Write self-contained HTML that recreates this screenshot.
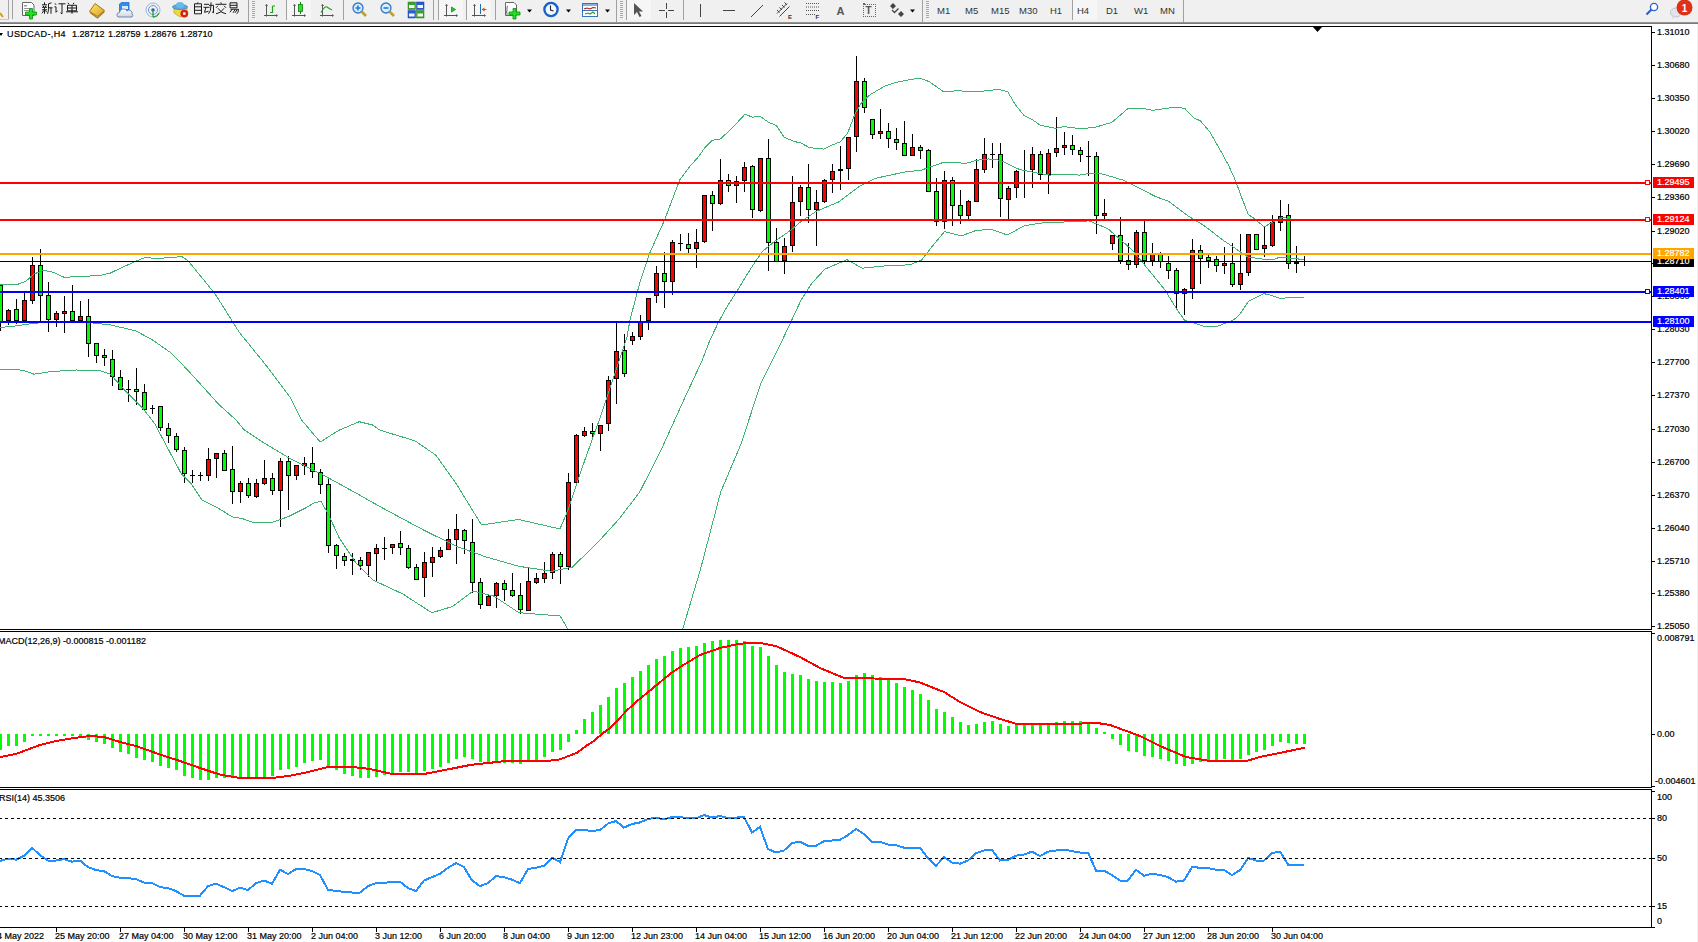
<!DOCTYPE html>
<html><head><meta charset="utf-8">
<style>
html,body{margin:0;padding:0;}
body{width:1698px;height:942px;overflow:hidden;position:relative;background:#fff;font-family:"Liberation Sans",sans-serif;}
.t{position:absolute;white-space:nowrap;line-height:11px;font-size:9px;-webkit-text-stroke:0.2px;}
.bx{position:absolute;left:1653px;width:41px;height:11px;font-size:9px;line-height:11px;text-indent:4px;white-space:nowrap;-webkit-text-stroke:0.2px;}
#tb{position:absolute;left:0;top:0;width:1698px;height:22px;background:#f0f0f0;}
#tbl{position:absolute;left:0;top:22px;width:1698px;height:2px;background:linear-gradient(#a0a0a0,#6e6e6e);}
#rs{position:absolute;left:1697px;top:24px;width:1px;height:918px;background:#f0f0f0;}
.tf{position:absolute;top:3.6px;font-size:9.5px;line-height:13px;color:#333;}
</style></head><body>
<div id="tb"><svg style="position:absolute;left:0;top:0" width="1698" height="22">
<!-- left partial pressed button -->
<rect x="8" y="0" width="1" height="20" fill="#a8a8a8"/>
<rect x="0" y="19" width="9" height="1" fill="#c8c8c8"/>
<path d="M0,13 L3,17" stroke="#d4a017" stroke-width="2"/>
<rect x="12" y="0" width="1" height="19" fill="#a0a0a0"/>
<!-- new order icon -->
<path d="M22.5,2.5 h9 l2.5,2.5 v10.5 h-11.5 z" fill="#fff" stroke="#666" stroke-width="1"/>
<rect x="24" y="5" width="3" height="1.5" fill="#999"/>
<rect x="24" y="8" width="7" height="1" fill="#999"/>
<rect x="24" y="10" width="7" height="1" fill="#999"/>
<path d="M29.5,8.5 h3 v3.5 h4 v3 h-4 v4 h-3 v-4 h-4 v-3 h4 z" fill="#22e022" stroke="#0b8f0b" stroke-width="0.8"/>
<!-- 新订单 -->
<g stroke="#111" stroke-width="0.95" fill="none" transform="translate(0,-0.7)">
 <path d="M42,5.5 h5 M44.5,3 v2.5 M42,8 h5 M43,6.5 l1,1.5 M46,6.5 l-1,1.5 M42,10.5 h5 M44.5,8 v6.5 M44,11 l-2,3 M45,11 l2,2"/>
 <path d="M48.5,4.5 l3,-1 M48.5,4.5 v5 q0,3 -1,5 M48.5,8.5 h4 M51,8.5 v6"/>
 <path d="M55,4 l1,1.5 M54.5,7.5 h1.5 v5.5 l1.5,-1.5 M58.5,4.5 h7 M62,4.5 v10 l-1.5,-1"/>
 <path d="M68,3.5 l1,1.5 M74,3.5 l-1,1.5 M67.5,6 h9 v5.5 h-9 z M67.5,8.7 h9 M72,6 v8.5 M66,12.5 h12"/>
</g>
<!-- gold book -->
<defs><linearGradient id="gb" x1="0" y1="0" x2="1" y2="1"><stop offset="0" stop-color="#ffe870"/><stop offset="1" stop-color="#d8a020"/></linearGradient>
<linearGradient id="cl" x1="0" y1="0" x2="0" y2="1"><stop offset="0" stop-color="#ffffff"/><stop offset="1" stop-color="#c8d4e8"/></linearGradient></defs>
<path d="M89.5,11.5 L95,3.5 L104.5,10.5 L97.5,16.5 Z" fill="url(#gb)" stroke="#9a6a10" stroke-width="0.9"/>
<path d="M90,12.5 L97.5,18 L104.5,11.5" fill="none" stroke="#b07818" stroke-width="1.2"/>
<!-- blue cloud -->
<path d="M119.5,4 l2,-1.5 h7.5 v9 h-9.5 z" fill="#2a90f0" stroke="#1a60c0" stroke-width="0.7"/>
<rect x="122" y="6" width="6" height="3" fill="#d8ecff"/>
<path d="M118,17 a2.5,2.5 0 0 1 1.5,-4.5 a4,4 0 0 1 7.5,-1.5 a3,3 0 0 1 5,3 a2,2 0 0 1 0,3 z" fill="url(#cl)" stroke="#5a70a0" stroke-width="0.8"/>
<!-- signal icon -->
<circle cx="153" cy="10" r="7" fill="none" stroke="#9ab8e0" stroke-width="1"/>
<circle cx="153" cy="10" r="4.5" fill="none" stroke="#6a98d8" stroke-width="1"/>
<circle cx="153" cy="10" r="1.8" fill="#2a60c8"/>
<path d="M153,10 v7 M153,17 a7,7 0 0 0 6,-4" fill="none" stroke="#30a030" stroke-width="1.3"/>
<!-- auto trading hat -->
<path d="M174,13 L180,17 L187,12 L187,8 L174,8 Z" fill="#f0d840" stroke="#b09020" stroke-width="0.6"/>
<ellipse cx="180" cy="7" rx="7.5" ry="2.5" fill="#5aaae0" stroke="#2a70b0" stroke-width="0.6"/>
<ellipse cx="180" cy="5" rx="4" ry="3" fill="#6ab8ee"/>
<circle cx="184.3" cy="13.6" r="3.9" fill="#d82010"/>
<rect x="183.1" y="12.4" width="2.4" height="2.4" fill="#fff"/>
<!-- 自动交易 -->
<g stroke="#111" stroke-width="0.95" fill="none" transform="translate(0,-0.7)">
 <path d="M198,3 l-1,1.5 M194.5,4.5 h7 v10 h-7 z M194.5,7.5 h7 M194.5,11 h7"/>
 <path d="M204,5 h5 M203.5,8 h6 M206,8 l-1.5,5 l4,-1 M211,3 v3 q0,6 -2.5,8.5 M209,6 h4.5 v7.5 l-1.5,-1"/>
 <path d="M221,3 v1.5 M215.5,5 h11 M218,6.5 l-2,2 M224,6.5 l2,2 M218,9 q3,5 8,5.5 M224,9 q-3,5 -8,5.5"/>
 <path d="M230,3.5 h7 v5 h-7 z M230,6 h7 M230.5,10 h8 q0,4 -2,4.5 M232,10 l-2,3 M235,10.5 l-2,3 M237,10.5 l-2,3"/>
</g>
<rect x="248" y="0" width="1" height="22" fill="#a0a0a0"/>
<g fill="#a8a8a8"><rect x="252" y="1" width="3" height="1"/><rect x="252" y="3" width="3" height="1"/><rect x="252" y="5" width="3" height="1"/><rect x="252" y="7" width="3" height="1"/><rect x="252" y="9" width="3" height="1"/><rect x="252" y="11" width="3" height="1"/><rect x="252" y="13" width="3" height="1"/><rect x="252" y="15" width="3" height="1"/><rect x="252" y="17" width="3" height="1"/></g>
<!-- bar chart icon -->
<g stroke="#555" stroke-width="1" fill="#555">
 <path d="M266.5,4.5 v12 M264,15.5 h13" fill="none"/>
 <path d="M265,6 l1.5,-2 l1.5,2 z M276,14 l2,1.5 l-2,1.5 z" stroke="none"/>
</g>
<path d="M272.5,6 v7 M272.5,6 h2.5 M270,12.5 h2.5" stroke="#20a020" stroke-width="1.2" fill="none"/>
<rect x="286" y="0" width="1" height="20" fill="#a0a0a0"/>
<rect x="287" y="0" width="24" height="20" fill="#f6f6f6"/>
<g stroke="#555" stroke-width="1" fill="#555">
 <path d="M294.5,4.5 v12 M292,15.5 h13" fill="none"/>
 <path d="M293,6 l1.5,-2 l1.5,2 z M304,14 l2,1.5 l-2,1.5 z" stroke="none"/>
</g>
<rect x="300" y="2" width="1" height="12" fill="#108010"/>
<rect x="298.5" y="4.5" width="4" height="7" fill="#30e030" stroke="#108010" stroke-width="0.8"/>
<g stroke="#555" stroke-width="1" fill="#555">
 <path d="M322.5,4.5 v12 M320,15.5 h13" fill="none"/>
 <path d="M321,6 l1.5,-2 l1.5,2 z M332,14 l2,1.5 l-2,1.5 z" stroke="none"/>
</g>
<path d="M321,12.5 q4,-7 6,-5.5 t5,3" stroke="#20a020" stroke-width="1.1" fill="none"/>
<rect x="343" y="0" width="1" height="20" fill="#a0a0a0"/>
<!-- zoom in/out -->
<circle cx="358" cy="8" r="5" fill="#d8ecff" stroke="#2a78d0" stroke-width="1.3"/>
<path d="M355.5,8 h5 M358,5.5 v5" stroke="#2a78d0" stroke-width="1.6"/>
<path d="M361.5,11.5 l4.5,4.5" stroke="#c8a020" stroke-width="2.6"/>
<circle cx="386" cy="8" r="5" fill="#d8ecff" stroke="#2a78d0" stroke-width="1.3"/>
<path d="M383.5,8 h5" stroke="#2a78d0" stroke-width="1.6"/>
<path d="M389.5,11.5 l4.5,4.5" stroke="#c8a020" stroke-width="2.6"/>
<!-- tile windows -->
<rect x="408" y="2" width="7.5" height="7.5" fill="#3aa030" stroke="#2a7a20" stroke-width="0.5"/><rect x="416.5" y="2" width="7.5" height="7.5" fill="#2a5ad8" stroke="#1a40a0" stroke-width="0.5"/>
<rect x="408" y="10.5" width="7.5" height="7.5" fill="#2a5ad8" stroke="#1a40a0" stroke-width="0.5"/><rect x="416.5" y="10.5" width="7.5" height="7.5" fill="#3aa030" stroke="#2a7a20" stroke-width="0.5"/>
<g fill="#f4f8f4"><rect x="409" y="5" width="5.5" height="3"/><rect x="417.5" y="5" width="5.5" height="3"/><rect x="409" y="13.5" width="5.5" height="3"/><rect x="417.5" y="13.5" width="5.5" height="3"/></g>
<rect x="433" y="0" width="1" height="20" fill="#a0a0a0"/>
<rect x="438" y="0" width="1" height="20" fill="#a0a0a0"/>
<rect x="439" y="0" width="24" height="20" fill="#f6f6f6"/>
<g stroke="#555" stroke-width="1" fill="#555">
 <path d="M446.5,4.5 v12 M444,15.5 h13" fill="none"/>
 <path d="M445,6 l1.5,-2 l1.5,2 z M456,14 l2,1.5 l-2,1.5 z" stroke="none"/>
</g>
<path d="M451.5,7 l4,2.5 l-4,2.5 z" fill="#30c030" stroke="#109010" stroke-width="0.8"/>
<rect x="466" y="0" width="1" height="20" fill="#a0a0a0"/>
<rect x="467" y="0" width="24" height="20" fill="#f6f6f6"/>
<g stroke="#555" stroke-width="1" fill="#555">
 <path d="M474.5,4.5 v12 M472,15.5 h13" fill="none"/>
 <path d="M473,6 l1.5,-2 l1.5,2 z M484,14 l2,1.5 l-2,1.5 z" stroke="none"/>
</g>
<rect x="480" y="4" width="1" height="10" fill="#2070b0"/>
<path d="M481.5,9.5 l3,-2 v1.5 h2 v1 h-2 v1.5 z" fill="#e05010"/>
<rect x="495" y="0" width="1" height="20" fill="#a0a0a0"/>
<!-- new chart icon -->
<path d="M505.5,2.5 h8.5 l2.5,2.5 v10.5 h-11 z" fill="#fff" stroke="#666" stroke-width="1"/>
<path d="M508,6 q-1,0 -1,2 v3 q0,1 -1,1 q1,0 1,1 v2" fill="none" stroke="#444" stroke-width="0.8"/>
<path d="M513,8.5 h3 v3.5 h4 v3 h-4 v4 h-3 v-4 h-4 v-3 h4 z" fill="#22e022" stroke="#0b8f0b" stroke-width="0.8"/>
<path d="M527,9.5 h5 l-2.5,3 z" fill="#000"/>
<!-- clock -->
<circle cx="551" cy="9.5" r="7.8" fill="#1a60c8"/>
<circle cx="551" cy="9.5" r="5.4" fill="#f4f8ff"/>
<path d="M550.5,5.5 v4.5 l3,1" stroke="#222" stroke-width="1.1" fill="none"/>
<path d="M566,9.5 h5 l-2.5,3 z" fill="#000"/>
<!-- indicators -->
<rect x="582.5" y="3.5" width="15" height="13" fill="#fff" stroke="#3a70c0" stroke-width="1"/>
<rect x="583" y="4" width="14" height="2" fill="#8ab0e0"/>
<rect x="583" y="10" width="14" height="1" fill="#3a70c0"/>
<path d="M584,9 l3,-1 l3,1 l3,-1.5 l3,0.5" stroke="#a02010" stroke-width="1.1" fill="none"/>
<path d="M585,14 l3,-1 l2,1 l3,-2 l2,2" stroke="#20a020" stroke-width="1.1" fill="none"/>
<path d="M605,9.5 h5 l-2.5,3 z" fill="#000"/>
<rect x="616" y="0" width="1" height="22" fill="#a0a0a0"/>
<g fill="#a8a8a8"><rect x="620" y="1" width="3" height="1"/><rect x="620" y="3" width="3" height="1"/><rect x="620" y="5" width="3" height="1"/><rect x="620" y="7" width="3" height="1"/><rect x="620" y="9" width="3" height="1"/><rect x="620" y="11" width="3" height="1"/><rect x="620" y="13" width="3" height="1"/><rect x="620" y="15" width="3" height="1"/><rect x="620" y="17" width="3" height="1"/></g>
<rect x="626" y="0" width="1" height="20" fill="#a0a0a0"/>
<rect x="627" y="0" width="24" height="20" fill="#f6f6f6"/>
<path d="M634,3 v12 l3,-3 l2.5,5 l2,-1 l-2.5,-4.5 h4 z" fill="#555"/>
<!-- crosshair -->
<path d="M666.5,3 v6 M666.5,12 v6 M659,10.5 h6 M668,10.5 h6" stroke="#444" stroke-width="1"/>
<rect x="683" y="0" width="1" height="20" fill="#a0a0a0"/>
<rect x="700" y="4" width="1" height="13" fill="#444"/>
<rect x="723" y="10" width="12" height="1" fill="#444"/>
<path d="M751,17 l12,-12" stroke="#444" stroke-width="1"/>
<!-- channel E -->
<path d="M777,13.5 l10,-10 M779.5,16.5 l10,-10 M777,10 l2.5,2.5 M779.5,7.5 l2.5,2.5 M782,5 l2.5,2.5 M784.5,2.5 l2.5,2.5" stroke="#444" stroke-width="1" fill="none"/>
<text x="788" y="19" font-family="Liberation Sans" font-size="6" font-weight="bold" fill="#333">E</text>
<!-- fibo -->
<g fill="#555"><rect x="806" y="3" width="13" height="1"/><rect x="806" y="6.5" width="13" height="1"/><rect x="806" y="10" width="13" height="1"/><rect x="806" y="14" width="9" height="1"/></g>
<g fill="#f0f0f0"><rect x="807" y="0" width="1" height="16"/><rect x="809" y="0" width="1" height="16"/><rect x="811" y="0" width="1" height="16"/><rect x="813" y="0" width="1" height="16"/><rect x="815" y="0" width="1" height="16"/><rect x="817" y="0" width="1" height="16"/></g>
<text x="815.5" y="19" font-family="Liberation Sans" font-size="6" font-weight="bold" fill="#333">F</text>
<text x="836.5" y="15" font-family="Liberation Sans" font-size="11" font-weight="bold" fill="#555">A</text>
<g fill="#666"><rect x="863" y="3" width="2" height="2"/><rect x="865" y="4" width="1" height="1"/><rect x="865" y="16" width="1" height="1"/><rect x="867" y="4" width="1" height="1"/><rect x="867" y="16" width="1" height="1"/><rect x="869" y="4" width="1" height="1"/><rect x="869" y="16" width="1" height="1"/><rect x="871" y="4" width="1" height="1"/><rect x="871" y="16" width="1" height="1"/><rect x="873" y="4" width="1" height="1"/><rect x="873" y="16" width="1" height="1"/><rect x="875" y="4" width="1" height="1"/><rect x="875" y="16" width="1" height="1"/><rect x="863" y="6" width="1" height="1"/><rect x="875" y="6" width="1" height="1"/><rect x="863" y="8" width="1" height="1"/><rect x="875" y="8" width="1" height="1"/><rect x="863" y="10" width="1" height="1"/><rect x="875" y="10" width="1" height="1"/><rect x="863" y="12" width="1" height="1"/><rect x="875" y="12" width="1" height="1"/><rect x="863" y="14" width="1" height="1"/><rect x="875" y="14" width="1" height="1"/><rect x="863" y="16" width="1" height="1"/><rect x="875" y="16" width="1" height="1"/></g>
<text x="865.5" y="14" font-family="Liberation Sans" font-size="10" font-weight="bold" fill="#555">T</text>
<path d="M890,6 l3,-3 l3,3 l-3,3 z M898,14 l3,-3 l3,3 l-3,3 z" fill="#444"/>
<path d="M892,10 l2.5,2.5 l4,-4" stroke="#444" stroke-width="1.3" fill="none"/>
<path d="M910,9.5 h5 l-2.5,3 z" fill="#000"/>
<rect x="922" y="0" width="1" height="22" fill="#a0a0a0"/>
<g fill="#a8a8a8"><rect x="926" y="1" width="3" height="1"/><rect x="926" y="3" width="3" height="1"/><rect x="926" y="5" width="3" height="1"/><rect x="926" y="7" width="3" height="1"/><rect x="926" y="9" width="3" height="1"/><rect x="926" y="11" width="3" height="1"/><rect x="926" y="13" width="3" height="1"/><rect x="926" y="15" width="3" height="1"/><rect x="926" y="17" width="3" height="1"/></g>
<rect x="1072" y="0" width="1" height="20" fill="#a0a0a0"/>
<rect x="1073" y="0" width="24" height="20" fill="#f6f6f6"/>
<rect x="1183" y="0" width="1" height="22" fill="#a0a0a0"/>
<!-- search -->
<circle cx="1654" cy="7" r="3.6" fill="#fff" stroke="#2a60d0" stroke-width="1.3"/>
<path d="M1651.5,9.5 l-5,5" stroke="#2a60d0" stroke-width="2.2"/>
<!-- chat badge -->
<ellipse cx="1676" cy="12.5" rx="5.5" ry="4.5" fill="#e0e4ec" stroke="#b8bcc8" stroke-width="0.8"/>
<path d="M1673,16 l-1,3 l3,-2.5" fill="#d0d4dc"/>
<circle cx="1684.5" cy="7.5" r="8" fill="#e03018"/>
<text x="1681.8" y="12" font-family="Liberation Sans" font-size="10" font-weight="bold" fill="#fff">1</text>
</svg>
<div class="tf" style="left:937px">M1</div>
<div class="tf" style="left:965px">M5</div>
<div class="tf" style="left:991px">M15</div>
<div class="tf" style="left:1019px">M30</div>
<div class="tf" style="left:1050px">H1</div>
<div class="tf" style="left:1077px">H4</div>
<div class="tf" style="left:1106px">D1</div>
<div class="tf" style="left:1134px">W1</div>
<div class="tf" style="left:1160px">MN</div>
</div>
<div id="tbl"></div>
<svg style="position:absolute;left:0;top:0" width="1698" height="942">
<g shape-rendering="crispEdges" fill="#000">
<rect x="0" y="26" width="1652" height="1"/>
<rect x="0" y="629" width="1652" height="1"/>
<rect x="0" y="631" width="1652" height="1"/>
<rect x="0" y="787" width="1652" height="1"/>
<rect x="0" y="789" width="1652" height="1"/>
<rect x="0" y="927" width="1652" height="1"/>
<rect x="1651" y="26" width="1" height="604"/>
<rect x="1651" y="631" width="1" height="157"/>
<rect x="1651" y="789" width="1" height="139"/>
</g>
<defs><clipPath id="mc"><rect x="0" y="27" width="1651" height="602"/></clipPath><clipPath id="md"><rect x="0" y="632" width="1651" height="155"/></clipPath><clipPath id="rs"><rect x="0" y="790" width="1651" height="137"/></clipPath></defs>
<g shape-rendering="crispEdges">
<rect x="0" y="285" width="1" height="46" fill="#000"/>
<rect x="-2" y="285" width="5" height="38" fill="#000"/>
<rect x="-1" y="286" width="3" height="36" fill="#00ff00"/>
<rect x="8" y="309" width="1" height="16" fill="#000"/>
<rect x="6" y="310" width="5" height="11" fill="#000"/>
<rect x="7" y="311" width="3" height="9" fill="#ff0000"/>
<rect x="16" y="299" width="1" height="25" fill="#000"/>
<rect x="14" y="309" width="5" height="12" fill="#000"/>
<rect x="15" y="310" width="3" height="10" fill="#00ff00"/>
<rect x="24" y="293" width="1" height="28" fill="#000"/>
<rect x="22" y="300" width="5" height="21" fill="#000"/>
<rect x="23" y="301" width="3" height="19" fill="#ff0000"/>
<rect x="32" y="257" width="1" height="47" fill="#000"/>
<rect x="30" y="265" width="5" height="36" fill="#000"/>
<rect x="31" y="266" width="3" height="34" fill="#ff0000"/>
<rect x="40" y="249" width="1" height="72" fill="#000"/>
<rect x="38" y="265" width="5" height="31" fill="#000"/>
<rect x="39" y="266" width="3" height="29" fill="#00ff00"/>
<rect x="48" y="282" width="1" height="50" fill="#000"/>
<rect x="46" y="295" width="5" height="25" fill="#000"/>
<rect x="47" y="296" width="3" height="23" fill="#00ff00"/>
<rect x="56" y="311" width="1" height="16" fill="#000"/>
<rect x="54" y="313" width="5" height="7" fill="#000"/>
<rect x="55" y="314" width="3" height="5" fill="#ff0000"/>
<rect x="64" y="296" width="1" height="37" fill="#000"/>
<rect x="62" y="311" width="5" height="3" fill="#000"/>
<rect x="63" y="312" width="3" height="1" fill="#ff0000"/>
<rect x="72" y="285" width="1" height="36" fill="#000"/>
<rect x="70" y="311" width="5" height="10" fill="#000"/>
<rect x="71" y="312" width="3" height="8" fill="#00ff00"/>
<rect x="80" y="301" width="1" height="20" fill="#000"/>
<rect x="78" y="316" width="5" height="5" fill="#000"/>
<rect x="79" y="317" width="3" height="3" fill="#ff0000"/>
<rect x="88" y="299" width="1" height="58" fill="#000"/>
<rect x="86" y="316" width="5" height="28" fill="#000"/>
<rect x="87" y="317" width="3" height="26" fill="#00ff00"/>
<rect x="96" y="343" width="1" height="20" fill="#000"/>
<rect x="94" y="343" width="5" height="13" fill="#000"/>
<rect x="95" y="344" width="3" height="11" fill="#00ff00"/>
<rect x="104" y="349" width="1" height="17" fill="#000"/>
<rect x="102" y="355" width="5" height="3" fill="#000"/>
<rect x="103" y="356" width="3" height="1" fill="#00ff00"/>
<rect x="112" y="350" width="1" height="36" fill="#000"/>
<rect x="110" y="359" width="5" height="18" fill="#000"/>
<rect x="111" y="360" width="3" height="16" fill="#00ff00"/>
<rect x="120" y="370" width="1" height="20" fill="#000"/>
<rect x="118" y="377" width="5" height="13" fill="#000"/>
<rect x="119" y="378" width="3" height="11" fill="#00ff00"/>
<rect x="128" y="380" width="1" height="22" fill="#000"/>
<rect x="126" y="389" width="5" height="1" fill="#000"/>
<rect x="136" y="368" width="1" height="37" fill="#000"/>
<rect x="134" y="389" width="5" height="3" fill="#000"/>
<rect x="135" y="390" width="3" height="1" fill="#00ff00"/>
<rect x="144" y="384" width="1" height="27" fill="#000"/>
<rect x="142" y="392" width="5" height="18" fill="#000"/>
<rect x="143" y="393" width="3" height="16" fill="#00ff00"/>
<rect x="152" y="405" width="1" height="9" fill="#000"/>
<rect x="150" y="408" width="5" height="1" fill="#000"/>
<rect x="160" y="406" width="1" height="25" fill="#000"/>
<rect x="158" y="406" width="5" height="22" fill="#000"/>
<rect x="159" y="407" width="3" height="20" fill="#00ff00"/>
<rect x="168" y="423" width="1" height="20" fill="#000"/>
<rect x="166" y="428" width="5" height="8" fill="#000"/>
<rect x="167" y="429" width="3" height="6" fill="#00ff00"/>
<rect x="176" y="433" width="1" height="19" fill="#000"/>
<rect x="174" y="436" width="5" height="14" fill="#000"/>
<rect x="175" y="437" width="3" height="12" fill="#00ff00"/>
<rect x="184" y="447" width="1" height="36" fill="#000"/>
<rect x="182" y="450" width="5" height="24" fill="#000"/>
<rect x="183" y="451" width="3" height="22" fill="#00ff00"/>
<rect x="192" y="470" width="1" height="13" fill="#000"/>
<rect x="190" y="475" width="5" height="1" fill="#000"/>
<rect x="200" y="472" width="1" height="9" fill="#000"/>
<rect x="198" y="475" width="5" height="1" fill="#000"/>
<rect x="208" y="448" width="1" height="33" fill="#000"/>
<rect x="206" y="459" width="5" height="17" fill="#000"/>
<rect x="207" y="460" width="3" height="15" fill="#ff0000"/>
<rect x="216" y="453" width="1" height="25" fill="#000"/>
<rect x="214" y="453" width="5" height="6" fill="#000"/>
<rect x="215" y="454" width="3" height="4" fill="#ff0000"/>
<rect x="224" y="450" width="1" height="21" fill="#000"/>
<rect x="222" y="453" width="5" height="18" fill="#000"/>
<rect x="223" y="454" width="3" height="16" fill="#00ff00"/>
<rect x="232" y="446" width="1" height="58" fill="#000"/>
<rect x="230" y="469" width="5" height="23" fill="#000"/>
<rect x="231" y="470" width="3" height="21" fill="#00ff00"/>
<rect x="240" y="481" width="1" height="22" fill="#000"/>
<rect x="238" y="483" width="5" height="9" fill="#000"/>
<rect x="239" y="484" width="3" height="7" fill="#ff0000"/>
<rect x="248" y="478" width="1" height="20" fill="#000"/>
<rect x="246" y="483" width="5" height="13" fill="#000"/>
<rect x="247" y="484" width="3" height="11" fill="#00ff00"/>
<rect x="256" y="479" width="1" height="19" fill="#000"/>
<rect x="254" y="483" width="5" height="14" fill="#000"/>
<rect x="255" y="484" width="3" height="12" fill="#ff0000"/>
<rect x="264" y="460" width="1" height="25" fill="#000"/>
<rect x="262" y="478" width="5" height="6" fill="#000"/>
<rect x="263" y="479" width="3" height="4" fill="#ff0000"/>
<rect x="272" y="473" width="1" height="22" fill="#000"/>
<rect x="270" y="478" width="5" height="13" fill="#000"/>
<rect x="271" y="479" width="3" height="11" fill="#00ff00"/>
<rect x="280" y="458" width="1" height="69" fill="#000"/>
<rect x="278" y="461" width="5" height="30" fill="#000"/>
<rect x="279" y="462" width="3" height="28" fill="#ff0000"/>
<rect x="288" y="456" width="1" height="54" fill="#000"/>
<rect x="286" y="461" width="5" height="15" fill="#000"/>
<rect x="287" y="462" width="3" height="13" fill="#00ff00"/>
<rect x="296" y="465" width="1" height="15" fill="#000"/>
<rect x="294" y="465" width="5" height="11" fill="#000"/>
<rect x="295" y="466" width="3" height="9" fill="#ff0000"/>
<rect x="304" y="457" width="1" height="18" fill="#000"/>
<rect x="302" y="463" width="5" height="3" fill="#000"/>
<rect x="303" y="464" width="3" height="1" fill="#ff0000"/>
<rect x="312" y="447" width="1" height="31" fill="#000"/>
<rect x="310" y="463" width="5" height="9" fill="#000"/>
<rect x="311" y="464" width="3" height="7" fill="#00ff00"/>
<rect x="320" y="469" width="1" height="25" fill="#000"/>
<rect x="318" y="472" width="5" height="13" fill="#000"/>
<rect x="319" y="473" width="3" height="11" fill="#00ff00"/>
<rect x="328" y="479" width="1" height="74" fill="#000"/>
<rect x="326" y="484" width="5" height="62" fill="#000"/>
<rect x="327" y="485" width="3" height="60" fill="#00ff00"/>
<rect x="336" y="544" width="1" height="25" fill="#000"/>
<rect x="334" y="545" width="5" height="11" fill="#000"/>
<rect x="335" y="546" width="3" height="9" fill="#00ff00"/>
<rect x="344" y="553" width="1" height="13" fill="#000"/>
<rect x="342" y="556" width="5" height="5" fill="#000"/>
<rect x="343" y="557" width="3" height="3" fill="#00ff00"/>
<rect x="352" y="553" width="1" height="22" fill="#000"/>
<rect x="350" y="559" width="5" height="2" fill="#000"/>
<rect x="360" y="557" width="1" height="13" fill="#000"/>
<rect x="358" y="560" width="5" height="6" fill="#000"/>
<rect x="359" y="561" width="3" height="4" fill="#00ff00"/>
<rect x="368" y="552" width="1" height="25" fill="#000"/>
<rect x="366" y="552" width="5" height="14" fill="#000"/>
<rect x="367" y="553" width="3" height="12" fill="#ff0000"/>
<rect x="376" y="544" width="1" height="37" fill="#000"/>
<rect x="374" y="548" width="5" height="6" fill="#000"/>
<rect x="375" y="549" width="3" height="4" fill="#ff0000"/>
<rect x="384" y="537" width="1" height="23" fill="#000"/>
<rect x="382" y="548" width="5" height="1" fill="#000"/>
<rect x="392" y="544" width="1" height="10" fill="#000"/>
<rect x="390" y="544" width="5" height="4" fill="#000"/>
<rect x="391" y="545" width="3" height="2" fill="#ff0000"/>
<rect x="400" y="531" width="1" height="24" fill="#000"/>
<rect x="398" y="543" width="5" height="5" fill="#000"/>
<rect x="399" y="544" width="3" height="3" fill="#00ff00"/>
<rect x="408" y="545" width="1" height="24" fill="#000"/>
<rect x="406" y="548" width="5" height="20" fill="#000"/>
<rect x="407" y="549" width="3" height="18" fill="#00ff00"/>
<rect x="416" y="564" width="1" height="16" fill="#000"/>
<rect x="414" y="567" width="5" height="13" fill="#000"/>
<rect x="415" y="568" width="3" height="11" fill="#00ff00"/>
<rect x="424" y="552" width="1" height="45" fill="#000"/>
<rect x="422" y="562" width="5" height="16" fill="#000"/>
<rect x="423" y="563" width="3" height="14" fill="#ff0000"/>
<rect x="432" y="547" width="1" height="30" fill="#000"/>
<rect x="430" y="557" width="5" height="6" fill="#000"/>
<rect x="431" y="558" width="3" height="4" fill="#ff0000"/>
<rect x="440" y="547" width="1" height="11" fill="#000"/>
<rect x="438" y="550" width="5" height="7" fill="#000"/>
<rect x="439" y="551" width="3" height="5" fill="#ff0000"/>
<rect x="448" y="529" width="1" height="21" fill="#000"/>
<rect x="446" y="539" width="5" height="11" fill="#000"/>
<rect x="447" y="540" width="3" height="9" fill="#ff0000"/>
<rect x="456" y="514" width="1" height="50" fill="#000"/>
<rect x="454" y="529" width="5" height="11" fill="#000"/>
<rect x="455" y="530" width="3" height="9" fill="#ff0000"/>
<rect x="464" y="529" width="1" height="25" fill="#000"/>
<rect x="462" y="530" width="5" height="11" fill="#000"/>
<rect x="463" y="531" width="3" height="9" fill="#00ff00"/>
<rect x="472" y="519" width="1" height="74" fill="#000"/>
<rect x="470" y="542" width="5" height="41" fill="#000"/>
<rect x="471" y="543" width="3" height="39" fill="#00ff00"/>
<rect x="480" y="578" width="1" height="31" fill="#000"/>
<rect x="478" y="582" width="5" height="23" fill="#000"/>
<rect x="479" y="583" width="3" height="21" fill="#00ff00"/>
<rect x="488" y="594" width="1" height="12" fill="#000"/>
<rect x="486" y="596" width="5" height="10" fill="#000"/>
<rect x="487" y="597" width="3" height="8" fill="#ff0000"/>
<rect x="496" y="582" width="1" height="26" fill="#000"/>
<rect x="494" y="583" width="5" height="13" fill="#000"/>
<rect x="495" y="584" width="3" height="11" fill="#ff0000"/>
<rect x="504" y="580" width="1" height="21" fill="#000"/>
<rect x="502" y="583" width="5" height="7" fill="#000"/>
<rect x="503" y="584" width="3" height="5" fill="#00ff00"/>
<rect x="512" y="573" width="1" height="24" fill="#000"/>
<rect x="510" y="590" width="5" height="6" fill="#000"/>
<rect x="511" y="591" width="3" height="4" fill="#00ff00"/>
<rect x="520" y="583" width="1" height="31" fill="#000"/>
<rect x="518" y="595" width="5" height="15" fill="#000"/>
<rect x="519" y="596" width="3" height="13" fill="#00ff00"/>
<rect x="528" y="567" width="1" height="44" fill="#000"/>
<rect x="526" y="581" width="5" height="30" fill="#000"/>
<rect x="527" y="582" width="3" height="28" fill="#ff0000"/>
<rect x="536" y="573" width="1" height="11" fill="#000"/>
<rect x="534" y="578" width="5" height="5" fill="#000"/>
<rect x="535" y="579" width="3" height="3" fill="#ff0000"/>
<rect x="544" y="562" width="1" height="21" fill="#000"/>
<rect x="542" y="573" width="5" height="6" fill="#000"/>
<rect x="543" y="574" width="3" height="4" fill="#ff0000"/>
<rect x="552" y="552" width="1" height="27" fill="#000"/>
<rect x="550" y="554" width="5" height="19" fill="#000"/>
<rect x="551" y="555" width="3" height="17" fill="#ff0000"/>
<rect x="560" y="552" width="1" height="32" fill="#000"/>
<rect x="558" y="554" width="5" height="13" fill="#000"/>
<rect x="559" y="555" width="3" height="11" fill="#00ff00"/>
<rect x="568" y="473" width="1" height="97" fill="#000"/>
<rect x="566" y="482" width="5" height="85" fill="#000"/>
<rect x="567" y="483" width="3" height="83" fill="#ff0000"/>
<rect x="576" y="434" width="1" height="49" fill="#000"/>
<rect x="574" y="435" width="5" height="48" fill="#000"/>
<rect x="575" y="436" width="3" height="46" fill="#ff0000"/>
<rect x="584" y="427" width="1" height="10" fill="#000"/>
<rect x="582" y="431" width="5" height="5" fill="#000"/>
<rect x="583" y="432" width="3" height="3" fill="#ff0000"/>
<rect x="592" y="423" width="1" height="16" fill="#000"/>
<rect x="590" y="431" width="5" height="3" fill="#000"/>
<rect x="591" y="432" width="3" height="1" fill="#00ff00"/>
<rect x="600" y="425" width="1" height="26" fill="#000"/>
<rect x="598" y="425" width="5" height="9" fill="#000"/>
<rect x="599" y="426" width="3" height="7" fill="#ff0000"/>
<rect x="608" y="376" width="1" height="55" fill="#000"/>
<rect x="606" y="380" width="5" height="44" fill="#000"/>
<rect x="607" y="381" width="3" height="42" fill="#ff0000"/>
<rect x="616" y="323" width="1" height="81" fill="#000"/>
<rect x="614" y="351" width="5" height="28" fill="#000"/>
<rect x="615" y="352" width="3" height="26" fill="#ff0000"/>
<rect x="624" y="334" width="1" height="43" fill="#000"/>
<rect x="622" y="350" width="5" height="24" fill="#000"/>
<rect x="623" y="351" width="3" height="22" fill="#00ff00"/>
<rect x="632" y="332" width="1" height="13" fill="#000"/>
<rect x="630" y="336" width="5" height="5" fill="#000"/>
<rect x="631" y="337" width="3" height="3" fill="#ff0000"/>
<rect x="640" y="315" width="1" height="25" fill="#000"/>
<rect x="638" y="322" width="5" height="15" fill="#000"/>
<rect x="639" y="323" width="3" height="13" fill="#ff0000"/>
<rect x="648" y="298" width="1" height="32" fill="#000"/>
<rect x="646" y="298" width="5" height="23" fill="#000"/>
<rect x="647" y="299" width="3" height="21" fill="#ff0000"/>
<rect x="656" y="266" width="1" height="37" fill="#000"/>
<rect x="654" y="273" width="5" height="23" fill="#000"/>
<rect x="655" y="274" width="3" height="21" fill="#ff0000"/>
<rect x="664" y="252" width="1" height="56" fill="#000"/>
<rect x="662" y="273" width="5" height="9" fill="#000"/>
<rect x="663" y="274" width="3" height="7" fill="#00ff00"/>
<rect x="672" y="240" width="1" height="55" fill="#000"/>
<rect x="670" y="242" width="5" height="40" fill="#000"/>
<rect x="671" y="243" width="3" height="38" fill="#ff0000"/>
<rect x="680" y="234" width="1" height="17" fill="#000"/>
<rect x="678" y="243" width="5" height="1" fill="#000"/>
<rect x="688" y="233" width="1" height="20" fill="#000"/>
<rect x="686" y="244" width="5" height="5" fill="#000"/>
<rect x="687" y="245" width="3" height="3" fill="#00ff00"/>
<rect x="696" y="229" width="1" height="39" fill="#000"/>
<rect x="694" y="242" width="5" height="7" fill="#000"/>
<rect x="695" y="243" width="3" height="5" fill="#ff0000"/>
<rect x="704" y="195" width="1" height="48" fill="#000"/>
<rect x="702" y="195" width="5" height="47" fill="#000"/>
<rect x="703" y="196" width="3" height="45" fill="#ff0000"/>
<rect x="712" y="191" width="1" height="40" fill="#000"/>
<rect x="710" y="195" width="5" height="9" fill="#000"/>
<rect x="711" y="196" width="3" height="7" fill="#00ff00"/>
<rect x="720" y="159" width="1" height="46" fill="#000"/>
<rect x="718" y="180" width="5" height="24" fill="#000"/>
<rect x="719" y="181" width="3" height="22" fill="#ff0000"/>
<rect x="728" y="174" width="1" height="18" fill="#000"/>
<rect x="726" y="180" width="5" height="6" fill="#000"/>
<rect x="727" y="181" width="3" height="4" fill="#00ff00"/>
<rect x="736" y="176" width="1" height="27" fill="#000"/>
<rect x="734" y="181" width="5" height="5" fill="#000"/>
<rect x="735" y="182" width="3" height="3" fill="#ff0000"/>
<rect x="744" y="162" width="1" height="30" fill="#000"/>
<rect x="742" y="167" width="5" height="14" fill="#000"/>
<rect x="743" y="168" width="3" height="12" fill="#ff0000"/>
<rect x="752" y="165" width="1" height="53" fill="#000"/>
<rect x="750" y="166" width="5" height="44" fill="#000"/>
<rect x="751" y="167" width="3" height="42" fill="#00ff00"/>
<rect x="760" y="158" width="1" height="54" fill="#000"/>
<rect x="758" y="158" width="5" height="53" fill="#000"/>
<rect x="759" y="159" width="3" height="51" fill="#ff0000"/>
<rect x="768" y="139" width="1" height="132" fill="#000"/>
<rect x="766" y="158" width="5" height="85" fill="#000"/>
<rect x="767" y="159" width="3" height="83" fill="#00ff00"/>
<rect x="776" y="228" width="1" height="34" fill="#000"/>
<rect x="774" y="242" width="5" height="20" fill="#000"/>
<rect x="775" y="243" width="3" height="18" fill="#00ff00"/>
<rect x="784" y="238" width="1" height="36" fill="#000"/>
<rect x="782" y="246" width="5" height="15" fill="#000"/>
<rect x="783" y="247" width="3" height="13" fill="#ff0000"/>
<rect x="792" y="176" width="1" height="76" fill="#000"/>
<rect x="790" y="202" width="5" height="44" fill="#000"/>
<rect x="791" y="203" width="3" height="42" fill="#ff0000"/>
<rect x="800" y="185" width="1" height="31" fill="#000"/>
<rect x="798" y="187" width="5" height="15" fill="#000"/>
<rect x="799" y="188" width="3" height="13" fill="#ff0000"/>
<rect x="808" y="164" width="1" height="59" fill="#000"/>
<rect x="806" y="187" width="5" height="23" fill="#000"/>
<rect x="807" y="188" width="3" height="21" fill="#00ff00"/>
<rect x="816" y="190" width="1" height="56" fill="#000"/>
<rect x="814" y="202" width="5" height="8" fill="#000"/>
<rect x="815" y="203" width="3" height="6" fill="#ff0000"/>
<rect x="824" y="179" width="1" height="24" fill="#000"/>
<rect x="822" y="180" width="5" height="22" fill="#000"/>
<rect x="823" y="181" width="3" height="20" fill="#ff0000"/>
<rect x="832" y="164" width="1" height="29" fill="#000"/>
<rect x="830" y="171" width="5" height="9" fill="#000"/>
<rect x="831" y="172" width="3" height="7" fill="#ff0000"/>
<rect x="840" y="146" width="1" height="44" fill="#000"/>
<rect x="838" y="169" width="5" height="2" fill="#000"/>
<rect x="848" y="137" width="1" height="43" fill="#000"/>
<rect x="846" y="137" width="5" height="32" fill="#000"/>
<rect x="847" y="138" width="3" height="30" fill="#ff0000"/>
<rect x="856" y="56" width="1" height="96" fill="#000"/>
<rect x="854" y="81" width="5" height="56" fill="#000"/>
<rect x="855" y="82" width="3" height="54" fill="#ff0000"/>
<rect x="864" y="78" width="1" height="35" fill="#000"/>
<rect x="862" y="81" width="5" height="27" fill="#000"/>
<rect x="863" y="82" width="3" height="25" fill="#00ff00"/>
<rect x="872" y="119" width="1" height="20" fill="#000"/>
<rect x="870" y="119" width="5" height="16" fill="#000"/>
<rect x="871" y="120" width="3" height="14" fill="#00ff00"/>
<rect x="880" y="109" width="1" height="30" fill="#000"/>
<rect x="878" y="131" width="5" height="3" fill="#000"/>
<rect x="879" y="132" width="3" height="1" fill="#ff0000"/>
<rect x="888" y="123" width="1" height="25" fill="#000"/>
<rect x="886" y="131" width="5" height="8" fill="#000"/>
<rect x="887" y="132" width="3" height="6" fill="#00ff00"/>
<rect x="896" y="128" width="1" height="22" fill="#000"/>
<rect x="894" y="139" width="5" height="4" fill="#000"/>
<rect x="895" y="140" width="3" height="2" fill="#00ff00"/>
<rect x="904" y="121" width="1" height="35" fill="#000"/>
<rect x="902" y="143" width="5" height="13" fill="#000"/>
<rect x="903" y="144" width="3" height="11" fill="#00ff00"/>
<rect x="912" y="134" width="1" height="22" fill="#000"/>
<rect x="910" y="147" width="5" height="9" fill="#000"/>
<rect x="911" y="148" width="3" height="7" fill="#ff0000"/>
<rect x="920" y="145" width="1" height="14" fill="#000"/>
<rect x="918" y="147" width="5" height="4" fill="#000"/>
<rect x="919" y="148" width="3" height="2" fill="#00ff00"/>
<rect x="928" y="149" width="1" height="43" fill="#000"/>
<rect x="926" y="150" width="5" height="42" fill="#000"/>
<rect x="927" y="151" width="3" height="40" fill="#00ff00"/>
<rect x="936" y="178" width="1" height="48" fill="#000"/>
<rect x="934" y="191" width="5" height="31" fill="#000"/>
<rect x="935" y="192" width="3" height="29" fill="#00ff00"/>
<rect x="944" y="171" width="1" height="58" fill="#000"/>
<rect x="942" y="180" width="5" height="42" fill="#000"/>
<rect x="943" y="181" width="3" height="40" fill="#ff0000"/>
<rect x="952" y="177" width="1" height="49" fill="#000"/>
<rect x="950" y="180" width="5" height="26" fill="#000"/>
<rect x="951" y="181" width="3" height="24" fill="#00ff00"/>
<rect x="960" y="190" width="1" height="34" fill="#000"/>
<rect x="958" y="205" width="5" height="11" fill="#000"/>
<rect x="959" y="206" width="3" height="9" fill="#00ff00"/>
<rect x="968" y="200" width="1" height="19" fill="#000"/>
<rect x="966" y="201" width="5" height="15" fill="#000"/>
<rect x="967" y="202" width="3" height="13" fill="#ff0000"/>
<rect x="976" y="159" width="1" height="43" fill="#000"/>
<rect x="974" y="169" width="5" height="33" fill="#000"/>
<rect x="975" y="170" width="3" height="31" fill="#ff0000"/>
<rect x="984" y="138" width="1" height="35" fill="#000"/>
<rect x="982" y="154" width="5" height="16" fill="#000"/>
<rect x="983" y="155" width="3" height="14" fill="#ff0000"/>
<rect x="992" y="143" width="1" height="25" fill="#000"/>
<rect x="990" y="154" width="5" height="1" fill="#000"/>
<rect x="1000" y="143" width="1" height="74" fill="#000"/>
<rect x="998" y="154" width="5" height="45" fill="#000"/>
<rect x="999" y="155" width="3" height="43" fill="#00ff00"/>
<rect x="1008" y="186" width="1" height="35" fill="#000"/>
<rect x="1006" y="188" width="5" height="12" fill="#000"/>
<rect x="1007" y="189" width="3" height="10" fill="#ff0000"/>
<rect x="1016" y="170" width="1" height="28" fill="#000"/>
<rect x="1014" y="171" width="5" height="17" fill="#000"/>
<rect x="1015" y="172" width="3" height="15" fill="#ff0000"/>
<rect x="1024" y="150" width="1" height="48" fill="#000"/>
<rect x="1022" y="170" width="5" height="1" fill="#000"/>
<rect x="1032" y="147" width="1" height="41" fill="#000"/>
<rect x="1030" y="154" width="5" height="16" fill="#000"/>
<rect x="1031" y="155" width="3" height="14" fill="#ff0000"/>
<rect x="1040" y="151" width="1" height="29" fill="#000"/>
<rect x="1038" y="154" width="5" height="21" fill="#000"/>
<rect x="1039" y="155" width="3" height="19" fill="#00ff00"/>
<rect x="1048" y="149" width="1" height="45" fill="#000"/>
<rect x="1046" y="153" width="5" height="22" fill="#000"/>
<rect x="1047" y="154" width="3" height="20" fill="#ff0000"/>
<rect x="1056" y="117" width="1" height="40" fill="#000"/>
<rect x="1054" y="148" width="5" height="5" fill="#000"/>
<rect x="1055" y="149" width="3" height="3" fill="#ff0000"/>
<rect x="1064" y="132" width="1" height="23" fill="#000"/>
<rect x="1062" y="145" width="5" height="3" fill="#000"/>
<rect x="1063" y="146" width="3" height="1" fill="#ff0000"/>
<rect x="1072" y="135" width="1" height="20" fill="#000"/>
<rect x="1070" y="145" width="5" height="5" fill="#000"/>
<rect x="1071" y="146" width="3" height="3" fill="#00ff00"/>
<rect x="1080" y="147" width="1" height="15" fill="#000"/>
<rect x="1078" y="150" width="5" height="5" fill="#000"/>
<rect x="1079" y="151" width="3" height="3" fill="#00ff00"/>
<rect x="1088" y="141" width="1" height="35" fill="#000"/>
<rect x="1086" y="156" width="5" height="1" fill="#000"/>
<rect x="1096" y="152" width="1" height="82" fill="#000"/>
<rect x="1094" y="156" width="5" height="60" fill="#000"/>
<rect x="1095" y="157" width="3" height="58" fill="#00ff00"/>
<rect x="1104" y="199" width="1" height="20" fill="#000"/>
<rect x="1102" y="213" width="5" height="3" fill="#000"/>
<rect x="1103" y="214" width="3" height="1" fill="#ff0000"/>
<rect x="1112" y="235" width="1" height="15" fill="#000"/>
<rect x="1110" y="235" width="5" height="9" fill="#000"/>
<rect x="1111" y="236" width="3" height="7" fill="#ff0000"/>
<rect x="1120" y="217" width="1" height="47" fill="#000"/>
<rect x="1118" y="235" width="5" height="26" fill="#000"/>
<rect x="1119" y="236" width="3" height="24" fill="#00ff00"/>
<rect x="1128" y="243" width="1" height="27" fill="#000"/>
<rect x="1126" y="260" width="5" height="5" fill="#000"/>
<rect x="1127" y="261" width="3" height="3" fill="#00ff00"/>
<rect x="1136" y="230" width="1" height="38" fill="#000"/>
<rect x="1134" y="232" width="5" height="33" fill="#000"/>
<rect x="1135" y="233" width="3" height="31" fill="#ff0000"/>
<rect x="1144" y="220" width="1" height="44" fill="#000"/>
<rect x="1142" y="232" width="5" height="29" fill="#000"/>
<rect x="1143" y="233" width="3" height="27" fill="#00ff00"/>
<rect x="1152" y="243" width="1" height="23" fill="#000"/>
<rect x="1150" y="254" width="5" height="7" fill="#000"/>
<rect x="1151" y="255" width="3" height="5" fill="#ff0000"/>
<rect x="1160" y="252" width="1" height="16" fill="#000"/>
<rect x="1158" y="254" width="5" height="8" fill="#000"/>
<rect x="1159" y="255" width="3" height="6" fill="#00ff00"/>
<rect x="1168" y="256" width="1" height="23" fill="#000"/>
<rect x="1166" y="263" width="5" height="8" fill="#000"/>
<rect x="1167" y="264" width="3" height="6" fill="#00ff00"/>
<rect x="1176" y="268" width="1" height="41" fill="#000"/>
<rect x="1174" y="270" width="5" height="24" fill="#000"/>
<rect x="1175" y="271" width="3" height="22" fill="#00ff00"/>
<rect x="1184" y="288" width="1" height="27" fill="#000"/>
<rect x="1182" y="289" width="5" height="5" fill="#000"/>
<rect x="1183" y="290" width="3" height="3" fill="#ff0000"/>
<rect x="1192" y="239" width="1" height="60" fill="#000"/>
<rect x="1190" y="250" width="5" height="39" fill="#000"/>
<rect x="1191" y="251" width="3" height="37" fill="#ff0000"/>
<rect x="1200" y="245" width="1" height="39" fill="#000"/>
<rect x="1198" y="250" width="5" height="9" fill="#000"/>
<rect x="1199" y="251" width="3" height="7" fill="#00ff00"/>
<rect x="1208" y="255" width="1" height="13" fill="#000"/>
<rect x="1206" y="257" width="5" height="4" fill="#000"/>
<rect x="1207" y="258" width="3" height="2" fill="#00ff00"/>
<rect x="1216" y="256" width="1" height="16" fill="#000"/>
<rect x="1214" y="259" width="5" height="7" fill="#000"/>
<rect x="1215" y="260" width="3" height="5" fill="#00ff00"/>
<rect x="1224" y="247" width="1" height="27" fill="#000"/>
<rect x="1222" y="263" width="5" height="3" fill="#000"/>
<rect x="1223" y="264" width="3" height="1" fill="#ff0000"/>
<rect x="1232" y="243" width="1" height="44" fill="#000"/>
<rect x="1230" y="263" width="5" height="22" fill="#000"/>
<rect x="1231" y="264" width="3" height="20" fill="#00ff00"/>
<rect x="1240" y="234" width="1" height="56" fill="#000"/>
<rect x="1238" y="273" width="5" height="12" fill="#000"/>
<rect x="1239" y="274" width="3" height="10" fill="#ff0000"/>
<rect x="1248" y="234" width="1" height="42" fill="#000"/>
<rect x="1246" y="234" width="5" height="39" fill="#000"/>
<rect x="1247" y="235" width="3" height="37" fill="#ff0000"/>
<rect x="1256" y="234" width="1" height="16" fill="#000"/>
<rect x="1254" y="234" width="5" height="16" fill="#000"/>
<rect x="1255" y="235" width="3" height="14" fill="#00ff00"/>
<rect x="1264" y="226" width="1" height="31" fill="#000"/>
<rect x="1262" y="245" width="5" height="4" fill="#000"/>
<rect x="1263" y="246" width="3" height="2" fill="#ff0000"/>
<rect x="1272" y="215" width="1" height="32" fill="#000"/>
<rect x="1270" y="222" width="5" height="24" fill="#000"/>
<rect x="1271" y="223" width="3" height="22" fill="#ff0000"/>
<rect x="1280" y="200" width="1" height="31" fill="#000"/>
<rect x="1278" y="216" width="5" height="7" fill="#000"/>
<rect x="1279" y="217" width="3" height="5" fill="#ff0000"/>
<rect x="1288" y="204" width="1" height="65" fill="#000"/>
<rect x="1286" y="215" width="5" height="49" fill="#000"/>
<rect x="1287" y="216" width="3" height="47" fill="#00ff00"/>
<rect x="1296" y="246" width="1" height="27" fill="#000"/>
<rect x="1294" y="262" width="5" height="2" fill="#000"/>
<rect x="1304" y="256" width="1" height="10" fill="#000"/>
<rect x="1302" y="261" width="5" height="1" fill="#000"/>
</g>
<g clip-path="url(#mc)" fill="none" stroke="#3cb371" stroke-width="1" shape-rendering="crispEdges">
<polyline points="0.0,284.5 17.0,284.5 25.5,281.6 34.0,274.0 42.5,270.6 51.0,271.4 64.5,277.4 76.4,276.5 98.5,275.7 110.4,273.1 118.9,268.9 135.9,261.2 144.4,257.8 160.0,258.3 182.0,256.6 188.0,260.7 215.0,293.8 239.5,332.6 265.0,364.0 290.0,397.0 301.5,420.0 320.2,442.0 339.0,430.2 359.3,421.7 372.9,425.1 380.0,430.2 415.0,440.8 436.0,455.3 456.6,484.3 481.5,524.9 518.8,519.5 560.0,529.0 568.4,509.0 585.0,459.5 600.0,418.0 627.0,336.8 630.0,320.0 639.6,283.4 649.0,254.7 664.4,220.3 679.7,180.1 690.0,166.2 697.4,158.0 704.9,147.7 712.3,140.2 719.7,139.5 727.1,132.8 734.6,125.4 745.0,114.2 752.4,117.2 759.8,116.2 768.7,122.4 776.2,125.4 784.3,137.3 794.0,141.4 801.4,143.2 808.9,147.4 816.3,148.4 823.7,149.1 831.1,145.4 840.0,142.0 847.4,133.6 854.9,114.3 860.8,103.9 869.7,95.0 884.6,86.1 896.5,82.3 911.3,79.4 920.2,78.3 929.1,81.6 944.0,92.0 958.9,90.5 966.3,91.7 981.1,91.3 998.9,89.4 1007.8,91.9 1015.3,104.6 1024.2,115.7 1033.1,120.2 1040.5,125.4 1055.4,128.3 1064.3,126.6 1079.1,128.6 1094.0,127.6 1111.8,122.4 1128.2,108.3 1146.0,109.0 1152.7,110.4 1163.9,108.8 1175.0,107.2 1184.6,108.3 1194.1,117.9 1200.5,121.0 1210.0,132.2 1219.6,148.9 1229.1,166.4 1235.5,180.7 1241.9,198.2 1248.2,214.2 1254.6,218.9 1264.2,226.9 1275.3,220.5 1283.3,217.3 1292.8,219.5 1304.0,219.5"/>
<polyline points="0.0,327.5 17.0,325.8 34.0,323.2 51.0,322.4 84.9,322.4 95.1,323.2 110.4,324.9 135.9,330.9 152.9,340.2 169.9,352.1 186.8,369.1 203.8,387.8 218.9,404.5 235.9,419.8 244.4,430.0 262.5,442.0 288.0,457.4 303.0,465.0 322.0,474.4 339.0,483.7 355.9,493.0 380.0,506.6 423.5,530.0 456.6,546.4 485.6,556.8 518.8,566.3 552.0,571.3 572.6,567.0 600.0,540.0 620.0,518.0 640.0,491.4 660.2,451.9 680.4,407.4 702.3,360.0 710.0,340.0 718.8,321.6 728.0,305.0 737.3,290.8 746.0,276.0 756.4,260.0 763.0,251.0 774.0,241.9 791.0,230.0 801.1,221.5 816.4,211.3 838.5,202.0 858.9,186.7 875.9,178.2 903.9,172.2 921.7,170.0 944.0,162.1 966.3,163.3 976.7,160.3 988.6,158.9 1000.0,160.3 1004.9,162.5 1019.7,169.6 1034.6,172.6 1049.4,175.1 1064.3,174.1 1079.1,175.1 1091.0,173.2 1102.9,174.1 1123.7,180.3 1138.6,187.8 1150.0,193.7 1155.9,196.7 1168.7,201.4 1187.8,215.8 1203.7,225.3 1222.8,240.0 1248.0,257.0 1265.0,259.5 1274.0,259.5 1279.3,257.2 1295.0,258.7 1304.0,259.5"/>
<polyline points="0.0,370.0 17.0,369.4 25.5,371.1 34.0,374.2 51.0,371.6 76.4,370.0 100.0,370.6 110.2,374.0 125.5,391.0 142.5,408.0 154.4,423.2 168.0,448.7 181.5,474.2 191.7,484.4 202.0,500.0 220.0,509.2 231.9,516.8 242.0,518.5 254.0,522.8 271.0,522.8 288.0,516.8 305.0,508.3 315.0,502.4 321.0,501.5 328.7,515.0 338.9,537.2 355.9,563.0 372.9,580.0 402.8,594.0 431.8,612.7 452.5,606.5 473.2,591.1 493.9,596.1 518.8,612.7 560.2,616.0 568.4,630.0"/>
<polyline points="682.4,630.0 700.6,569.0 720.7,492.0 741.0,444.0 761.0,383.0 781.0,343.0 801.1,300.0 812.0,283.0 825.0,269.1 847.0,259.7 862.3,268.2 884.4,266.0 900.0,265.7 912.0,264.0 921.6,260.0 931.0,247.8 944.5,231.6 961.5,235.9 975.1,230.8 990.4,229.1 1007.4,235.0 1024.4,225.7 1040.0,223.1 1089.3,220.9 1107.8,228.6 1132.5,250.2 1160.2,284.1 1165.4,290.7 1169.9,298.1 1177.3,310.0 1184.7,320.4 1195.1,323.4 1204.1,326.4 1217.4,326.4 1224.9,323.4 1233.8,319.7 1239.7,314.5 1248.7,301.1 1254.6,298.1 1263.5,293.7 1268.0,294.4 1279.9,298.4 1291.8,297.4 1303.7,297.4"/>
</g>
<g shape-rendering="crispEdges">
<rect x="0" y="182" width="1651" height="2" fill="#ff0000"/>
<rect x="0" y="219" width="1651" height="2" fill="#ff0000"/>
<rect x="0" y="253" width="1651" height="2" fill="#ffa500"/>
<rect x="0" y="261" width="1651" height="1" fill="#000000"/>
<rect x="0" y="291" width="1651" height="2" fill="#0000ff"/>
<rect x="0" y="321" width="1651" height="2" fill="#0000ff"/>
<rect x="1645" y="180" width="5" height="5" fill="#ff0000"/>
<rect x="1646" y="181" width="3" height="3" fill="#fff"/>
<rect x="1645" y="217" width="5" height="5" fill="#ff0000"/>
<rect x="1646" y="218" width="3" height="3" fill="#fff"/>
<rect x="1645" y="289" width="5" height="5" fill="#0000ff"/>
<rect x="1646" y="290" width="3" height="3" fill="#fff"/>
</g>
<polygon points="1313,27 1322,27 1317.5,32" fill="#000"/>
<g shape-rendering="crispEdges" fill="#00ff00">
<rect x="-1" y="734" width="3" height="16"/>
<rect x="7" y="734" width="3" height="12"/>
<rect x="15" y="734" width="3" height="12"/>
<rect x="23" y="734" width="3" height="8"/>
<rect x="31" y="734" width="3" height="2"/>
<rect x="39" y="734" width="3" height="2"/>
<rect x="47" y="734" width="3" height="2"/>
<rect x="55" y="734" width="3" height="2"/>
<rect x="63" y="734" width="3" height="2"/>
<rect x="71" y="734" width="3" height="2"/>
<rect x="79" y="734" width="3" height="3"/>
<rect x="87" y="734" width="3" height="6"/>
<rect x="95" y="734" width="3" height="8"/>
<rect x="103" y="734" width="3" height="10"/>
<rect x="111" y="734" width="3" height="14"/>
<rect x="119" y="734" width="3" height="18"/>
<rect x="127" y="734" width="3" height="20"/>
<rect x="135" y="734" width="3" height="24"/>
<rect x="143" y="734" width="3" height="26"/>
<rect x="151" y="734" width="3" height="28"/>
<rect x="159" y="734" width="3" height="32"/>
<rect x="167" y="734" width="3" height="34"/>
<rect x="175" y="734" width="3" height="36"/>
<rect x="183" y="734" width="3" height="42"/>
<rect x="191" y="734" width="3" height="44"/>
<rect x="199" y="734" width="3" height="46"/>
<rect x="207" y="734" width="3" height="46"/>
<rect x="215" y="734" width="3" height="44"/>
<rect x="223" y="734" width="3" height="44"/>
<rect x="231" y="734" width="3" height="43"/>
<rect x="239" y="734" width="3" height="45"/>
<rect x="247" y="734" width="3" height="45"/>
<rect x="255" y="734" width="3" height="44"/>
<rect x="263" y="734" width="3" height="44"/>
<rect x="271" y="734" width="3" height="42"/>
<rect x="279" y="734" width="3" height="36"/>
<rect x="287" y="734" width="3" height="35"/>
<rect x="295" y="734" width="3" height="33"/>
<rect x="303" y="734" width="3" height="29"/>
<rect x="311" y="734" width="3" height="27"/>
<rect x="319" y="734" width="3" height="26"/>
<rect x="327" y="734" width="3" height="32"/>
<rect x="335" y="734" width="3" height="36"/>
<rect x="343" y="734" width="3" height="40"/>
<rect x="351" y="734" width="3" height="42"/>
<rect x="359" y="734" width="3" height="44"/>
<rect x="367" y="734" width="3" height="44"/>
<rect x="375" y="734" width="3" height="43"/>
<rect x="383" y="734" width="3" height="41"/>
<rect x="391" y="734" width="3" height="40"/>
<rect x="399" y="734" width="3" height="38"/>
<rect x="407" y="734" width="3" height="38"/>
<rect x="415" y="734" width="3" height="39"/>
<rect x="423" y="734" width="3" height="37"/>
<rect x="431" y="734" width="3" height="35"/>
<rect x="439" y="734" width="3" height="33"/>
<rect x="447" y="734" width="3" height="29"/>
<rect x="455" y="734" width="3" height="25"/>
<rect x="463" y="734" width="3" height="23"/>
<rect x="471" y="734" width="3" height="25"/>
<rect x="479" y="734" width="3" height="28"/>
<rect x="487" y="734" width="3" height="29"/>
<rect x="495" y="734" width="3" height="28"/>
<rect x="503" y="734" width="3" height="29"/>
<rect x="511" y="734" width="3" height="29"/>
<rect x="519" y="734" width="3" height="30"/>
<rect x="527" y="734" width="3" height="26"/>
<rect x="535" y="734" width="3" height="26"/>
<rect x="543" y="734" width="3" height="23"/>
<rect x="551" y="734" width="3" height="18"/>
<rect x="559" y="734" width="3" height="16"/>
<rect x="567" y="734" width="3" height="8"/>
<rect x="575" y="730" width="3" height="4"/>
<rect x="583" y="719" width="3" height="15"/>
<rect x="591" y="712" width="3" height="22"/>
<rect x="599" y="705" width="3" height="29"/>
<rect x="607" y="697" width="3" height="37"/>
<rect x="615" y="688" width="3" height="46"/>
<rect x="623" y="683" width="3" height="51"/>
<rect x="631" y="677" width="3" height="57"/>
<rect x="639" y="671" width="3" height="63"/>
<rect x="647" y="665" width="3" height="69"/>
<rect x="655" y="659" width="3" height="75"/>
<rect x="663" y="656" width="3" height="78"/>
<rect x="671" y="651" width="3" height="83"/>
<rect x="679" y="648" width="3" height="86"/>
<rect x="687" y="647" width="3" height="87"/>
<rect x="695" y="646" width="3" height="88"/>
<rect x="703" y="643" width="3" height="91"/>
<rect x="711" y="641" width="3" height="93"/>
<rect x="719" y="640" width="3" height="94"/>
<rect x="727" y="640" width="3" height="94"/>
<rect x="735" y="640" width="3" height="94"/>
<rect x="743" y="641" width="3" height="93"/>
<rect x="751" y="646" width="3" height="88"/>
<rect x="759" y="647" width="3" height="87"/>
<rect x="767" y="656" width="3" height="78"/>
<rect x="775" y="665" width="3" height="69"/>
<rect x="783" y="672" width="3" height="62"/>
<rect x="791" y="674" width="3" height="60"/>
<rect x="799" y="675" width="3" height="59"/>
<rect x="807" y="679" width="3" height="55"/>
<rect x="815" y="681" width="3" height="53"/>
<rect x="823" y="682" width="3" height="52"/>
<rect x="831" y="682" width="3" height="52"/>
<rect x="839" y="683" width="3" height="51"/>
<rect x="847" y="681" width="3" height="53"/>
<rect x="855" y="675" width="3" height="59"/>
<rect x="863" y="673" width="3" height="61"/>
<rect x="871" y="675" width="3" height="59"/>
<rect x="879" y="677" width="3" height="57"/>
<rect x="887" y="679" width="3" height="55"/>
<rect x="895" y="683" width="3" height="51"/>
<rect x="903" y="687" width="3" height="47"/>
<rect x="911" y="690" width="3" height="44"/>
<rect x="919" y="694" width="3" height="40"/>
<rect x="927" y="700" width="3" height="34"/>
<rect x="935" y="709" width="3" height="25"/>
<rect x="943" y="712" width="3" height="22"/>
<rect x="951" y="717" width="3" height="17"/>
<rect x="959" y="722" width="3" height="12"/>
<rect x="967" y="725" width="3" height="9"/>
<rect x="975" y="724" width="3" height="10"/>
<rect x="983" y="722" width="3" height="12"/>
<rect x="991" y="721" width="3" height="13"/>
<rect x="999" y="724" width="3" height="10"/>
<rect x="1007" y="726" width="3" height="8"/>
<rect x="1015" y="724" width="3" height="10"/>
<rect x="1023" y="724" width="3" height="10"/>
<rect x="1031" y="724" width="3" height="10"/>
<rect x="1039" y="724" width="3" height="10"/>
<rect x="1047" y="724" width="3" height="10"/>
<rect x="1055" y="722" width="3" height="12"/>
<rect x="1063" y="721" width="3" height="13"/>
<rect x="1071" y="721" width="3" height="13"/>
<rect x="1079" y="721" width="3" height="13"/>
<rect x="1087" y="724" width="3" height="10"/>
<rect x="1095" y="728" width="3" height="6"/>
<rect x="1103" y="732" width="3" height="2"/>
<rect x="1111" y="734" width="3" height="5"/>
<rect x="1119" y="734" width="3" height="11"/>
<rect x="1127" y="734" width="3" height="17"/>
<rect x="1135" y="734" width="3" height="18"/>
<rect x="1143" y="734" width="3" height="22"/>
<rect x="1151" y="734" width="3" height="23"/>
<rect x="1159" y="734" width="3" height="25"/>
<rect x="1167" y="734" width="3" height="27"/>
<rect x="1175" y="734" width="3" height="30"/>
<rect x="1183" y="734" width="3" height="32"/>
<rect x="1191" y="734" width="3" height="30"/>
<rect x="1199" y="734" width="3" height="28"/>
<rect x="1207" y="734" width="3" height="26"/>
<rect x="1215" y="734" width="3" height="26"/>
<rect x="1223" y="734" width="3" height="25"/>
<rect x="1231" y="734" width="3" height="26"/>
<rect x="1239" y="734" width="3" height="25"/>
<rect x="1247" y="734" width="3" height="21"/>
<rect x="1255" y="734" width="3" height="18"/>
<rect x="1263" y="734" width="3" height="16"/>
<rect x="1271" y="734" width="3" height="12"/>
<rect x="1279" y="734" width="3" height="8"/>
<rect x="1287" y="734" width="3" height="9"/>
<rect x="1295" y="734" width="3" height="10"/>
<rect x="1303" y="734" width="3" height="10"/>
</g>
<g clip-path="url(#md)"><polyline points="0.0,757.0 16.0,754.0 40.0,745.0 56.0,741.0 74.0,738.0 90.0,736.0 104.0,737.0 120.0,742.0 136.0,746.0 160.0,754.5 180.0,761.0 200.0,768.0 220.0,774.6 240.0,778.0 272.0,778.0 288.0,776.0 304.0,773.0 328.0,767.0 352.0,767.0 370.0,769.0 392.0,774.0 424.0,774.0 450.0,769.0 470.0,765.0 506.0,761.0 550.0,760.6 560.0,759.4 568.5,756.0 577.0,752.7 585.5,746.3 594.0,740.8 602.5,733.5 611.0,727.2 619.4,718.3 628.0,709.3 638.0,700.4 670.0,674.0 680.0,667.0 700.0,655.0 720.0,648.0 740.0,643.6 760.0,643.0 776.0,646.0 800.0,657.0 820.0,668.0 844.0,678.0 904.0,679.0 920.0,682.5 944.0,692.0 960.0,702.0 980.0,712.0 1000.0,719.0 1016.0,723.7 1080.0,723.7 1094.0,722.5 1110.0,725.0 1140.0,736.0 1160.0,746.0 1186.0,757.0 1208.0,760.6 1248.0,760.6 1260.0,757.0 1305.0,747.7" fill="none" stroke="#ff0000" stroke-width="2" shape-rendering="crispEdges"/></g>
<g clip-path="url(#rs)"><polyline points="0.0,861.0 8.0,858.5 16.0,859.7 24.0,855.7 32.0,847.7 40.0,855.1 48.0,860.5 56.0,860.5 64.0,859.1 72.0,861.7 80.0,860.5 88.0,867.1 96.0,870.1 104.0,871.1 112.0,876.1 120.0,877.7 128.0,878.1 136.0,879.1 144.0,882.5 152.0,883.1 160.0,887.1 168.0,888.1 176.0,891.1 184.0,895.7 192.0,895.7 200.0,895.7 208.0,886.1 216.0,883.7 224.0,887.1 232.0,891.1 240.0,887.7 248.0,890.1 256.0,883.1 264.0,880.5 272.0,883.7 280.0,869.7 288.0,874.1 296.0,869.1 304.0,869.1 312.0,871.1 320.0,875.1 328.0,889.7 336.0,891.1 344.0,891.7 352.0,892.5 360.0,892.5 368.0,886.1 376.0,883.1 384.0,883.0 392.0,881.7 400.0,881.7 408.0,888.1 416.0,891.1 424.0,880.5 432.0,877.1 440.0,873.7 448.0,867.7 456.0,863.1 464.0,867.1 472.0,880.5 480.0,886.1 488.0,883.1 496.0,876.1 504.0,877.1 512.0,879.7 520.0,883.1 528.0,869.1 536.0,867.7 544.0,865.7 552.0,857.7 560.0,862.1 568.0,838.5 576.0,830.0 584.0,830.0 592.0,831.0 600.0,830.0 608.0,823.6 616.0,821.0 624.0,827.6 632.0,824.0 640.0,822.4 648.0,819.0 656.0,817.6 664.0,819.6 672.0,817.0 680.0,817.0 688.0,818.4 696.0,818.4 704.0,815.0 712.0,817.6 720.0,816.0 728.0,818.0 736.0,817.6 744.0,817.0 752.0,832.5 760.0,827.0 768.0,849.1 776.0,852.5 784.0,850.5 792.0,843.1 800.0,841.7 808.0,845.7 816.0,845.7 824.0,841.1 832.0,840.5 840.0,839.7 848.0,835.1 856.0,829.0 864.0,834.1 872.0,841.7 880.0,841.7 888.0,844.5 896.0,845.1 904.0,847.7 912.0,847.7 920.0,847.7 928.0,858.1 936.0,865.7 944.0,857.1 952.0,862.5 960.0,863.7 968.0,860.5 976.0,853.1 984.0,850.5 992.0,850.1 1000.0,860.5 1008.0,859.7 1016.0,855.7 1024.0,854.5 1032.0,851.7 1040.0,856.1 1048.0,851.7 1056.0,850.5 1064.0,849.7 1072.0,851.1 1080.0,852.5 1088.0,852.5 1096.0,870.5 1104.0,870.5 1112.0,875.1 1120.0,880.5 1128.0,880.5 1136.0,869.7 1144.0,875.7 1152.0,873.7 1160.0,875.1 1168.0,877.1 1176.0,881.7 1184.0,880.5 1192.0,867.1 1200.0,867.7 1208.0,868.1 1216.0,869.7 1224.0,869.7 1232.0,875.1 1240.0,870.1 1248.0,858.1 1256.0,860.5 1264.0,860.5 1272.0,853.1 1280.0,851.7 1288.0,864.5 1296.0,864.5 1304.0,864.5" fill="none" stroke="#1e90ff" stroke-width="2" shape-rendering="crispEdges"/></g>
<g shape-rendering="crispEdges" stroke="#000" stroke-width="1" stroke-dasharray="3,3">
<line x1="-1" y1="818.5" x2="1651" y2="818.5"/>
<line x1="-1" y1="858.5" x2="1651" y2="858.5"/>
<line x1="-1" y1="906.5" x2="1651" y2="906.5"/>
</g>
<rect x="1652" y="32" width="3" height="1" fill="#000" shape-rendering="crispEdges"/>
<rect x="1652" y="65" width="3" height="1" fill="#000" shape-rendering="crispEdges"/>
<rect x="1652" y="98" width="3" height="1" fill="#000" shape-rendering="crispEdges"/>
<rect x="1652" y="131" width="3" height="1" fill="#000" shape-rendering="crispEdges"/>
<rect x="1652" y="164" width="3" height="1" fill="#000" shape-rendering="crispEdges"/>
<rect x="1652" y="197" width="3" height="1" fill="#000" shape-rendering="crispEdges"/>
<rect x="1652" y="231" width="3" height="1" fill="#000" shape-rendering="crispEdges"/>
<rect x="1652" y="263" width="3" height="1" fill="#000" shape-rendering="crispEdges"/>
<rect x="1652" y="296" width="3" height="1" fill="#000" shape-rendering="crispEdges"/>
<rect x="1652" y="329" width="3" height="1" fill="#000" shape-rendering="crispEdges"/>
<rect x="1652" y="362" width="3" height="1" fill="#000" shape-rendering="crispEdges"/>
<rect x="1652" y="395" width="3" height="1" fill="#000" shape-rendering="crispEdges"/>
<rect x="1652" y="429" width="3" height="1" fill="#000" shape-rendering="crispEdges"/>
<rect x="1652" y="462" width="3" height="1" fill="#000" shape-rendering="crispEdges"/>
<rect x="1652" y="495" width="3" height="1" fill="#000" shape-rendering="crispEdges"/>
<rect x="1652" y="528" width="3" height="1" fill="#000" shape-rendering="crispEdges"/>
<rect x="1652" y="561" width="3" height="1" fill="#000" shape-rendering="crispEdges"/>
<rect x="1652" y="593" width="3" height="1" fill="#000" shape-rendering="crispEdges"/>
<rect x="1652" y="626" width="3" height="1" fill="#000" shape-rendering="crispEdges"/>
<rect x="1652" y="633" width="3" height="1" fill="#000" shape-rendering="crispEdges"/>
<rect x="1652" y="734" width="3" height="1" fill="#000" shape-rendering="crispEdges"/>
<rect x="1652" y="786" width="3" height="1" fill="#000" shape-rendering="crispEdges"/>
<rect x="1652" y="791" width="3" height="1" fill="#000" shape-rendering="crispEdges"/>
<rect x="1652" y="818" width="3" height="1" fill="#000" shape-rendering="crispEdges"/>
<rect x="1652" y="858" width="3" height="1" fill="#000" shape-rendering="crispEdges"/>
<rect x="1652" y="906" width="3" height="1" fill="#000" shape-rendering="crispEdges"/>
<rect x="1652" y="927" width="3" height="1" fill="#000" shape-rendering="crispEdges"/>
<rect x="56" y="928" width="1" height="4" fill="#000" shape-rendering="crispEdges"/>
<rect x="120" y="928" width="1" height="4" fill="#000" shape-rendering="crispEdges"/>
<rect x="184" y="928" width="1" height="4" fill="#000" shape-rendering="crispEdges"/>
<rect x="248" y="928" width="1" height="4" fill="#000" shape-rendering="crispEdges"/>
<rect x="312" y="928" width="1" height="4" fill="#000" shape-rendering="crispEdges"/>
<rect x="376" y="928" width="1" height="4" fill="#000" shape-rendering="crispEdges"/>
<rect x="440" y="928" width="1" height="4" fill="#000" shape-rendering="crispEdges"/>
<rect x="504" y="928" width="1" height="4" fill="#000" shape-rendering="crispEdges"/>
<rect x="568" y="928" width="1" height="4" fill="#000" shape-rendering="crispEdges"/>
<rect x="632" y="928" width="1" height="4" fill="#000" shape-rendering="crispEdges"/>
<rect x="696" y="928" width="1" height="4" fill="#000" shape-rendering="crispEdges"/>
<rect x="760" y="928" width="1" height="4" fill="#000" shape-rendering="crispEdges"/>
<rect x="824" y="928" width="1" height="4" fill="#000" shape-rendering="crispEdges"/>
<rect x="888" y="928" width="1" height="4" fill="#000" shape-rendering="crispEdges"/>
<rect x="952" y="928" width="1" height="4" fill="#000" shape-rendering="crispEdges"/>
<rect x="1016" y="928" width="1" height="4" fill="#000" shape-rendering="crispEdges"/>
<rect x="1080" y="928" width="1" height="4" fill="#000" shape-rendering="crispEdges"/>
<rect x="1144" y="928" width="1" height="4" fill="#000" shape-rendering="crispEdges"/>
<rect x="1208" y="928" width="1" height="4" fill="#000" shape-rendering="crispEdges"/>
<rect x="1272" y="928" width="1" height="4" fill="#000" shape-rendering="crispEdges"/>
</svg>
<div class="t" style="left:1657px;top:27px;color:#000;font-size:9px;">1.31010</div><div class="t" style="left:1657px;top:60px;color:#000;font-size:9px;">1.30680</div><div class="t" style="left:1657px;top:93px;color:#000;font-size:9px;">1.30350</div><div class="t" style="left:1657px;top:126px;color:#000;font-size:9px;">1.30020</div><div class="t" style="left:1657px;top:159px;color:#000;font-size:9px;">1.29690</div><div class="t" style="left:1657px;top:192px;color:#000;font-size:9px;">1.29360</div><div class="t" style="left:1657px;top:226px;color:#000;font-size:9px;">1.29020</div><div class="t" style="left:1657px;top:258px;color:#000;font-size:9px;">1.28700</div><div class="t" style="left:1657px;top:291px;color:#000;font-size:9px;">1.28360</div><div class="t" style="left:1657px;top:324px;color:#000;font-size:9px;">1.28030</div><div class="t" style="left:1657px;top:357px;color:#000;font-size:9px;">1.27700</div><div class="t" style="left:1657px;top:390px;color:#000;font-size:9px;">1.27370</div><div class="t" style="left:1657px;top:424px;color:#000;font-size:9px;">1.27030</div><div class="t" style="left:1657px;top:457px;color:#000;font-size:9px;">1.26700</div><div class="t" style="left:1657px;top:490px;color:#000;font-size:9px;">1.26370</div><div class="t" style="left:1657px;top:523px;color:#000;font-size:9px;">1.26040</div><div class="t" style="left:1657px;top:556px;color:#000;font-size:9px;">1.25710</div><div class="t" style="left:1657px;top:588px;color:#000;font-size:9px;">1.25380</div><div class="t" style="left:1657px;top:621px;color:#000;font-size:9px;">1.25050</div><div class="t" style="left:1657px;top:633px;color:#000;font-size:9px;">0.008791</div><div class="t" style="left:1657px;top:729px;color:#000;font-size:9px;">0.00</div><div class="t" style="left:1655px;top:776px;color:#000;font-size:9px;">-0.004601</div><div class="t" style="left:1657px;top:792px;color:#000;font-size:9px;">100</div><div class="t" style="left:1657px;top:813px;color:#000;font-size:9px;">80</div><div class="t" style="left:1657px;top:853px;color:#000;font-size:9px;">50</div><div class="t" style="left:1657px;top:901px;color:#000;font-size:9px;">15</div><div class="t" style="left:1657px;top:916px;color:#000;font-size:9px;">0</div><div class="t" style="left:55px;top:931px;color:#000;font-size:9px;">25 May 20:00</div><div class="t" style="left:119px;top:931px;color:#000;font-size:9px;">27 May 04:00</div><div class="t" style="left:183px;top:931px;color:#000;font-size:9px;">30 May 12:00</div><div class="t" style="left:247px;top:931px;color:#000;font-size:9px;">31 May 20:00</div><div class="t" style="left:311px;top:931px;color:#000;font-size:9px;">2 Jun 04:00</div><div class="t" style="left:375px;top:931px;color:#000;font-size:9px;">3 Jun 12:00</div><div class="t" style="left:439px;top:931px;color:#000;font-size:9px;">6 Jun 20:00</div><div class="t" style="left:503px;top:931px;color:#000;font-size:9px;">8 Jun 04:00</div><div class="t" style="left:567px;top:931px;color:#000;font-size:9px;">9 Jun 12:00</div><div class="t" style="left:631px;top:931px;color:#000;font-size:9px;">12 Jun 23:00</div><div class="t" style="left:695px;top:931px;color:#000;font-size:9px;">14 Jun 04:00</div><div class="t" style="left:759px;top:931px;color:#000;font-size:9px;">15 Jun 12:00</div><div class="t" style="left:823px;top:931px;color:#000;font-size:9px;">16 Jun 20:00</div><div class="t" style="left:887px;top:931px;color:#000;font-size:9px;">20 Jun 04:00</div><div class="t" style="left:951px;top:931px;color:#000;font-size:9px;">21 Jun 12:00</div><div class="t" style="left:1015px;top:931px;color:#000;font-size:9px;">22 Jun 20:00</div><div class="t" style="left:1079px;top:931px;color:#000;font-size:9px;">24 Jun 04:00</div><div class="t" style="left:1143px;top:931px;color:#000;font-size:9px;">27 Jun 12:00</div><div class="t" style="left:1207px;top:931px;color:#000;font-size:9px;">28 Jun 20:00</div><div class="t" style="left:1271px;top:931px;color:#000;font-size:9px;">30 Jun 04:00</div><div class="t" style="left:-8px;top:931px;color:#000;font-size:9px;">24 May 2022</div><div class="t" style="left:7px;top:29px;color:#000;font-size:9px;"><span style="letter-spacing:0.4px">USDCAD-,H4</span></div><div class="t" style="left:72px;top:29px;color:#000;font-size:9px;">1.28712</div><div class="t" style="left:108px;top:29px;color:#000;font-size:9px;">1.28759</div><div class="t" style="left:144px;top:29px;color:#000;font-size:9px;">1.28676</div><div class="t" style="left:180px;top:29px;color:#000;font-size:9px;">1.28710</div><svg style="position:absolute;left:0;top:33px" width="4" height="4"><path d="M-1,0 h4 l-2,3 z" fill="#000"/></svg><div class="t" style="left:-2px;top:636px;color:#000;font-size:9px;">MACD(12,26,9) -0.000815 -0.001182</div><div class="t" style="left:-1px;top:793px;color:#000;font-size:9px;">RSI(14) 45.3506</div>
<div class="bx" style="top:177px;background:#ff0000;color:#fff">1.29495</div><div class="bx" style="top:214px;background:#ff0000;color:#fff">1.29124</div><div class="bx" style="top:256px;background:#000000;color:#fff">1.28710</div><div class="bx" style="top:248px;background:#ffa500;color:#fff">1.28782</div><div class="bx" style="top:286px;background:#0000ff;color:#fff">1.28401</div><div class="bx" style="top:316px;background:#0000ff;color:#fff">1.28100</div>
<div id="rs"></div>
</body></html>
